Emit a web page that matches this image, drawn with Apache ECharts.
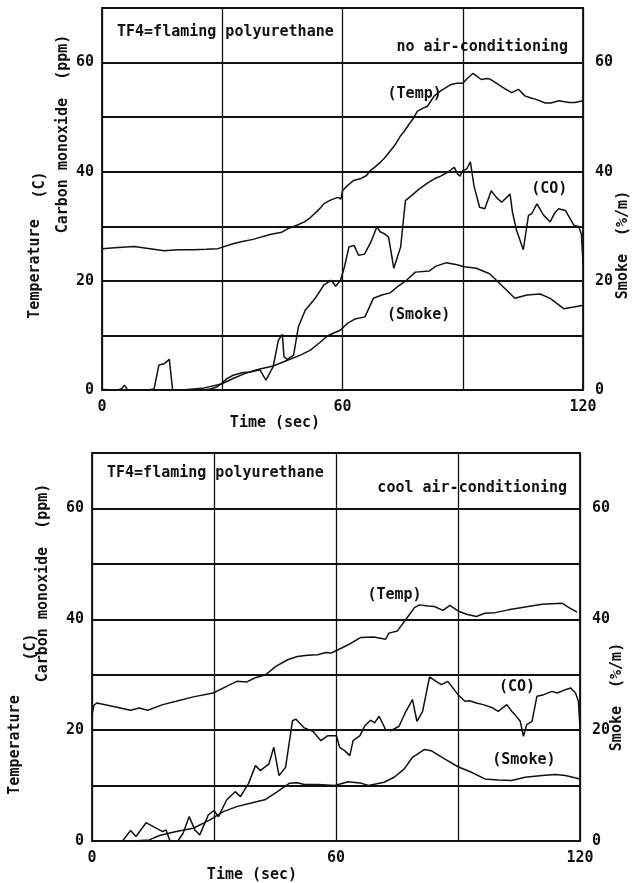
<!DOCTYPE html>
<html>
<head>
<meta charset="utf-8">
<title>TF4 flaming polyurethane</title>
<script src="https://cdn.jsdelivr.net/npm/echarts@6/dist/echarts.min.js"></script>
<style>
  html, body { margin: 0; padding: 0; background: #fff; }
  #main { width: 634px; height: 883px; }
</style>
</head>
<body>
<div id="main"></div>
<script>
// ---- data (time in sec, value) ----
// upper panel: no air-conditioning
var tempNoAC = [[0,25.9],[4,26.1],[8,26.3],[12,25.9],[15.5,25.5],[19,25.7],[22.6,25.7],[26,25.8],[28.9,25.9],[32.7,26.8],[35,27.2],[37.7,27.6],[40,28.1],[41.9,28.5],[44.8,28.9],[46.5,29.6],[48.6,30.2],[50.5,30.8],[52,31.6],[54,33],[55.5,34.2],[57,34.8],[58.8,35.3],[59.6,35.0],[60,36.5],[61,37.3],[62.8,38.4],[64.4,38.7],[66,39.3],[66.9,40.2],[68,40.8],[69.4,41.7],[70.5,42.5],[71.9,43.8],[73,44.8],[74.5,46.6],[75.5,47.5],[76.6,48.7],[77.7,49.8],[78.7,51.1],[80,51.6],[81.2,52.0],[82.9,53.9],[84.5,54.8],[86,55.5],[87.1,56.0],[88.5,56.2],[90,56.2],[91,57.0],[92.5,58.0],[93.5,57.5],[94.6,56.9],[96,57.1],[96.7,57.0],[98,56.4],[99.7,55.6],[101,55.0],[102.2,54.5],[103.9,55.1],[105.5,53.9],[107,53.5],[108.1,53.3],[110.6,52.6],[112,52.6],[114,53.0],[116.5,52.7],[118,52.7],[120,53.0]];
var coNoAC = [[0,0.1],[4,0],[5,0.3],[5.6,0.9],[6.3,0.1],[10,0],[12,0.1],[13,0.2],[14.2,4.6],[15.5,4.8],[16.8,5.6],[17.6,0.1],[20,0],[25,0],[27,0.2],[28.5,0.5],[30,1.3],[31,2.0],[32.7,2.7],[35.2,3.2],[37,3.3],[39.4,3.7],[40.9,1.8],[42.7,4.3],[44,9.1],[45,10.2],[45.4,6.1],[46.2,5.6],[47.8,6.4],[49,11.6],[50.7,14.6],[53.2,16.8],[55.3,19.2],[57.2,20.1],[58.3,19.0],[59.5,20.1],[60.5,22.6],[61.6,26.2],[62.9,26.5],[64,24.7],[65.5,24.9],[67,27],[68.6,29.9],[69.4,29],[70.5,28.6],[71.5,28],[72.8,22.3],[74.5,26.2],[75.7,34.7],[77.5,35.8],[79.1,36.8],[81,37.8],[82.9,38.7],[84.5,39.2],[86.2,39.9],[87.9,40.8],[88.7,39.6],[89.3,39.2],[90,40.2],[91,40.5],[91.9,41.8],[92.8,37.4],[94.2,33.5],[95.5,33.2],[97.1,36.5],[98.5,35.2],[99.7,34.4],[101.8,35.9],[102.4,32.6],[103.4,29.3],[105.1,25.7],[106.4,32],[107.2,32.3],[108.5,34.1],[110.2,32],[111.8,30.8],[113,32.5],[113.9,33.2],[115.6,32.9],[117.7,30.2],[119,29.9],[119.6,28.5],[120,23.2]];
var smokeNoAC = [[0,0],[10,0],[20,0],[25,0.3],[29.8,1.1],[32.7,2.1],[35.6,3.0],[38.6,3.7],[42.7,4.4],[46.1,5.4],[49.5,6.4],[52,7.3],[54.5,8.8],[56.2,9.9],[59.5,11.0],[61.2,12.2],[63.1,13.0],[65.6,13.4],[67.7,16.8],[69.8,17.4],[71.9,17.8],[74,19.1],[76.1,20.2],[78.2,21.6],[81.6,21.8],[83.3,22.7],[85.8,23.3],[88.3,23.0],[90.4,22.6],[93.4,22.3],[96.7,21.3],[98.4,20.1],[100.5,18.6],[103,16.8],[106,17.4],[109.3,17.6],[111.8,16.8],[115.2,14.9],[117.7,15.2],[119.8,15.5]];

// lower panel: cool air-conditioning
var tempCool = [[0,22.8],[0.5,24.5],[1.2,24.9],[5,24.3],[9.5,23.6],[11.6,24.0],[13.7,23.6],[17.4,24.6],[20.7,25.2],[24.9,26.0],[29.8,26.7],[33.1,27.9],[35.6,28.8],[38.1,28.7],[40,29.4],[42.7,30.0],[45.2,31.5],[48.1,32.7],[50.5,33.3],[53,33.5],[55.5,33.6],[57.5,34.0],[58.8,33.9],[60.5,34.5],[63,35.4],[66,36.7],[69.3,36.8],[72.2,36.4],[73,37.5],[75.1,37.9],[77.2,40],[79.3,42.1],[80.5,42.6],[82.6,42.4],[84.2,42.3],[86.3,41.6],[88,42.5],[90,41.5],[92.1,40.9],[94.5,40.5],[96.6,41.1],[99.1,41.2],[102.4,41.7],[106.5,42.2],[110.7,42.7],[115.6,42.9],[117.3,42.1],[119.3,41.3]];
var coCool = [[0,0],[7.5,0],[9.5,1.9],[10.8,0.8],[13.3,3.3],[15.3,2.5],[17.4,1.7],[18.2,2.0],[19.2,0],[21.1,0],[22.4,1.4],[23.9,4.4],[25.3,2.0],[26.5,1.1],[28.6,4.7],[30,5.5],[31.1,4.4],[33.1,7.4],[35.2,8.9],[36.5,8.0],[38.5,10.4],[40.2,13.6],[41.4,12.7],[43.5,13.9],[44.7,16.9],[46,11.8],[47.6,13.3],[49.3,21.7],[50.1,22.0],[52.2,20.4],[54.3,19.8],[56.3,18.1],[58,19],[60.1,19],[60.9,16.9],[62.1,16.3],[63.4,15.4],[64.2,18.1],[65.9,19],[67.1,20.8],[68.5,21.8],[69.5,21.3],[70.6,22.5],[72.2,20.1],[73.5,19.9],[75.5,20.7],[77.2,23.4],[78.8,25.5],[79.9,21.6],[81.3,23.4],[83,29.6],[83.4,29.9],[84.6,28.8],[85.9,28.2],[87.5,28.8],[90,26.4],[91.7,25.2],[92.9,25.3],[94.5,24.9],[96.2,24.6],[98.3,24.1],[99.9,23.4],[102,24.6],[103.2,23.4],[104,22.8],[105.3,21.6],[106.1,18.9],[106.9,21.0],[108.2,21.6],[109.4,26.1],[111.1,26.4],[113.1,27],[114.4,26.7],[116.4,27.3],[117.7,27.6],[118.9,26.7],[119.6,25.2],[120,20.4]];
var smokeCool = [[0,0],[10,0],[14.1,0.2],[16.6,1.0],[20.7,1.7],[24.9,2.3],[29,3.8],[32.3,5.3],[35.6,6.2],[38.9,6.8],[42.7,7.5],[45.6,8.9],[48.5,10.4],[50.5,10.5],[52.2,10.2],[55.5,10.2],[59.7,10.0],[63,10.7],[66.3,10.4],[68,10.0],[71.8,10.6],[74.3,11.5],[76.8,13],[78.8,15.1],[81.7,16.5],[83.4,16.3],[86.7,14.8],[90,13.4],[93.3,12.4],[96.6,11.2],[99.9,11.0],[103.2,10.9],[106.5,11.5],[110.7,11.8],[114,12.0],[116.4,11.8],[120,11.2]];

// curve labels [time, value]
var labelsNoAC = { temp: [78, 54.2], co: [111.6, 36.8], smoke: [79, 13.7] };
var labelsCool = { temp: [74.4, 44.3], co: [104.5, 27.8], smoke: [106.2, 14.6] };

var FONT = "'DejaVu Sans Mono', monospace";
var INK = '#111';

function xAxis(gi) {
    return {
        type: 'value', gridIndex: gi, min: 0, max: 120, interval: 30,
        axisLine: { show: false }, axisTick: { show: false },
        axisLabel: {
            margin: 10, color: INK, fontFamily: FONT, fontSize: 15, fontWeight: 'bold',
            formatter: function (v) { return v % 60 === 0 ? v : ''; }
        },
        splitLine: { show: true, lineStyle: { color: INK, width: 1.3 } }
    };
}
function yAxis(gi, pos) {
    return {
        type: 'value', gridIndex: gi, position: pos, min: 0, max: 70, interval: 10,
        axisLine: { show: false }, axisTick: { show: false },
        axisLabel: {
            margin: pos === 'left' ? 8 : 12, color: INK, fontFamily: FONT, fontSize: 15, fontWeight: 'bold',
            formatter: function (v) { return (v % 20 === 0 && v <= 60) ? v : ''; }
        },
        splitLine: { show: pos === 'left', lineStyle: { color: INK, width: 2 } }
    };
}
function line(data, xi, yi, name, lab) {
    return {
        type: 'line', xAxisIndex: xi, yAxisIndex: yi, data: data,
        showSymbol: false, silent: true,
        lineStyle: { color: INK, width: 1.5 },
        markPoint: {
            symbol: 'circle', symbolSize: 0, silent: true,
            label: { show: true, position: 'inside', formatter: name, color: INK, fontFamily: FONT, fontSize: 15, fontWeight: 'bold' },
            data: [{ coord: lab }]
        }
    };
}
function txt(x, y, s, align, rot) {
    return {
        type: 'text', x: x, y: y, rotation: rot || 0,
        style: { text: s, fill: INK, font: 'bold 15px ' + FONT, textAlign: align || 'left', textVerticalAlign: 'middle' }
    };
}

var myChart = echarts.init(document.getElementById('main'));
var option = {
    backgroundColor: '#fff',
    animation: false,
    grid: [
        { left: 102, top: 8, width: 481, height: 382, show: true, borderColor: INK, borderWidth: 1.8 },
        { left: 92, top: 453, width: 488, height: 388, show: true, borderColor: INK, borderWidth: 1.8 }
    ],
    xAxis: [xAxis(0), xAxis(1)],
    yAxis: [yAxis(0, 'left'), yAxis(0, 'right'), yAxis(1, 'left'), yAxis(1, 'right')],
    series: [
        line(tempNoAC, 0, 0, '(Temp)', labelsNoAC.temp),
        line(coNoAC, 0, 0, '(CO)', labelsNoAC.co),
        line(smokeNoAC, 0, 1, '(Smoke)', labelsNoAC.smoke),
        line(tempCool, 1, 2, '(Temp)', labelsCool.temp),
        line(coCool, 1, 2, '(CO)', labelsCool.co),
        line(smokeCool, 1, 3, '(Smoke)', labelsCool.smoke)
    ],
    graphic: [
        // upper panel
        txt(117, 32, 'TF4=flaming polyurethane'),
        txt(568, 47, 'no air-conditioning', 'right'),
        txt(35, 269, 'Temperature', 'center', Math.PI / 2),
        txt(40, 185, '(C)', 'center', Math.PI / 2),
        txt(63, 134, 'Carbon monoxide  (ppm)', 'center', Math.PI / 2),
        txt(623, 245, 'Smoke  (%/m)', 'center', Math.PI / 2),
        txt(275, 423, 'Time (sec)', 'center'),
        // lower panel
        txt(107, 473, 'TF4=flaming polyurethane'),
        txt(567, 488, 'cool air-conditioning', 'right'),
        txt(15, 745, 'Temperature', 'center', Math.PI / 2),
        txt(31, 647, '(C)', 'center', Math.PI / 2),
        txt(43, 583, 'Carbon monoxide  (ppm)', 'center', Math.PI / 2),
        txt(617, 697, 'Smoke  (%/m)', 'center', Math.PI / 2),
        txt(252, 875, 'Time (sec)', 'center')
    ]
};
myChart.setOption(option);
</script>
</body>
</html>
